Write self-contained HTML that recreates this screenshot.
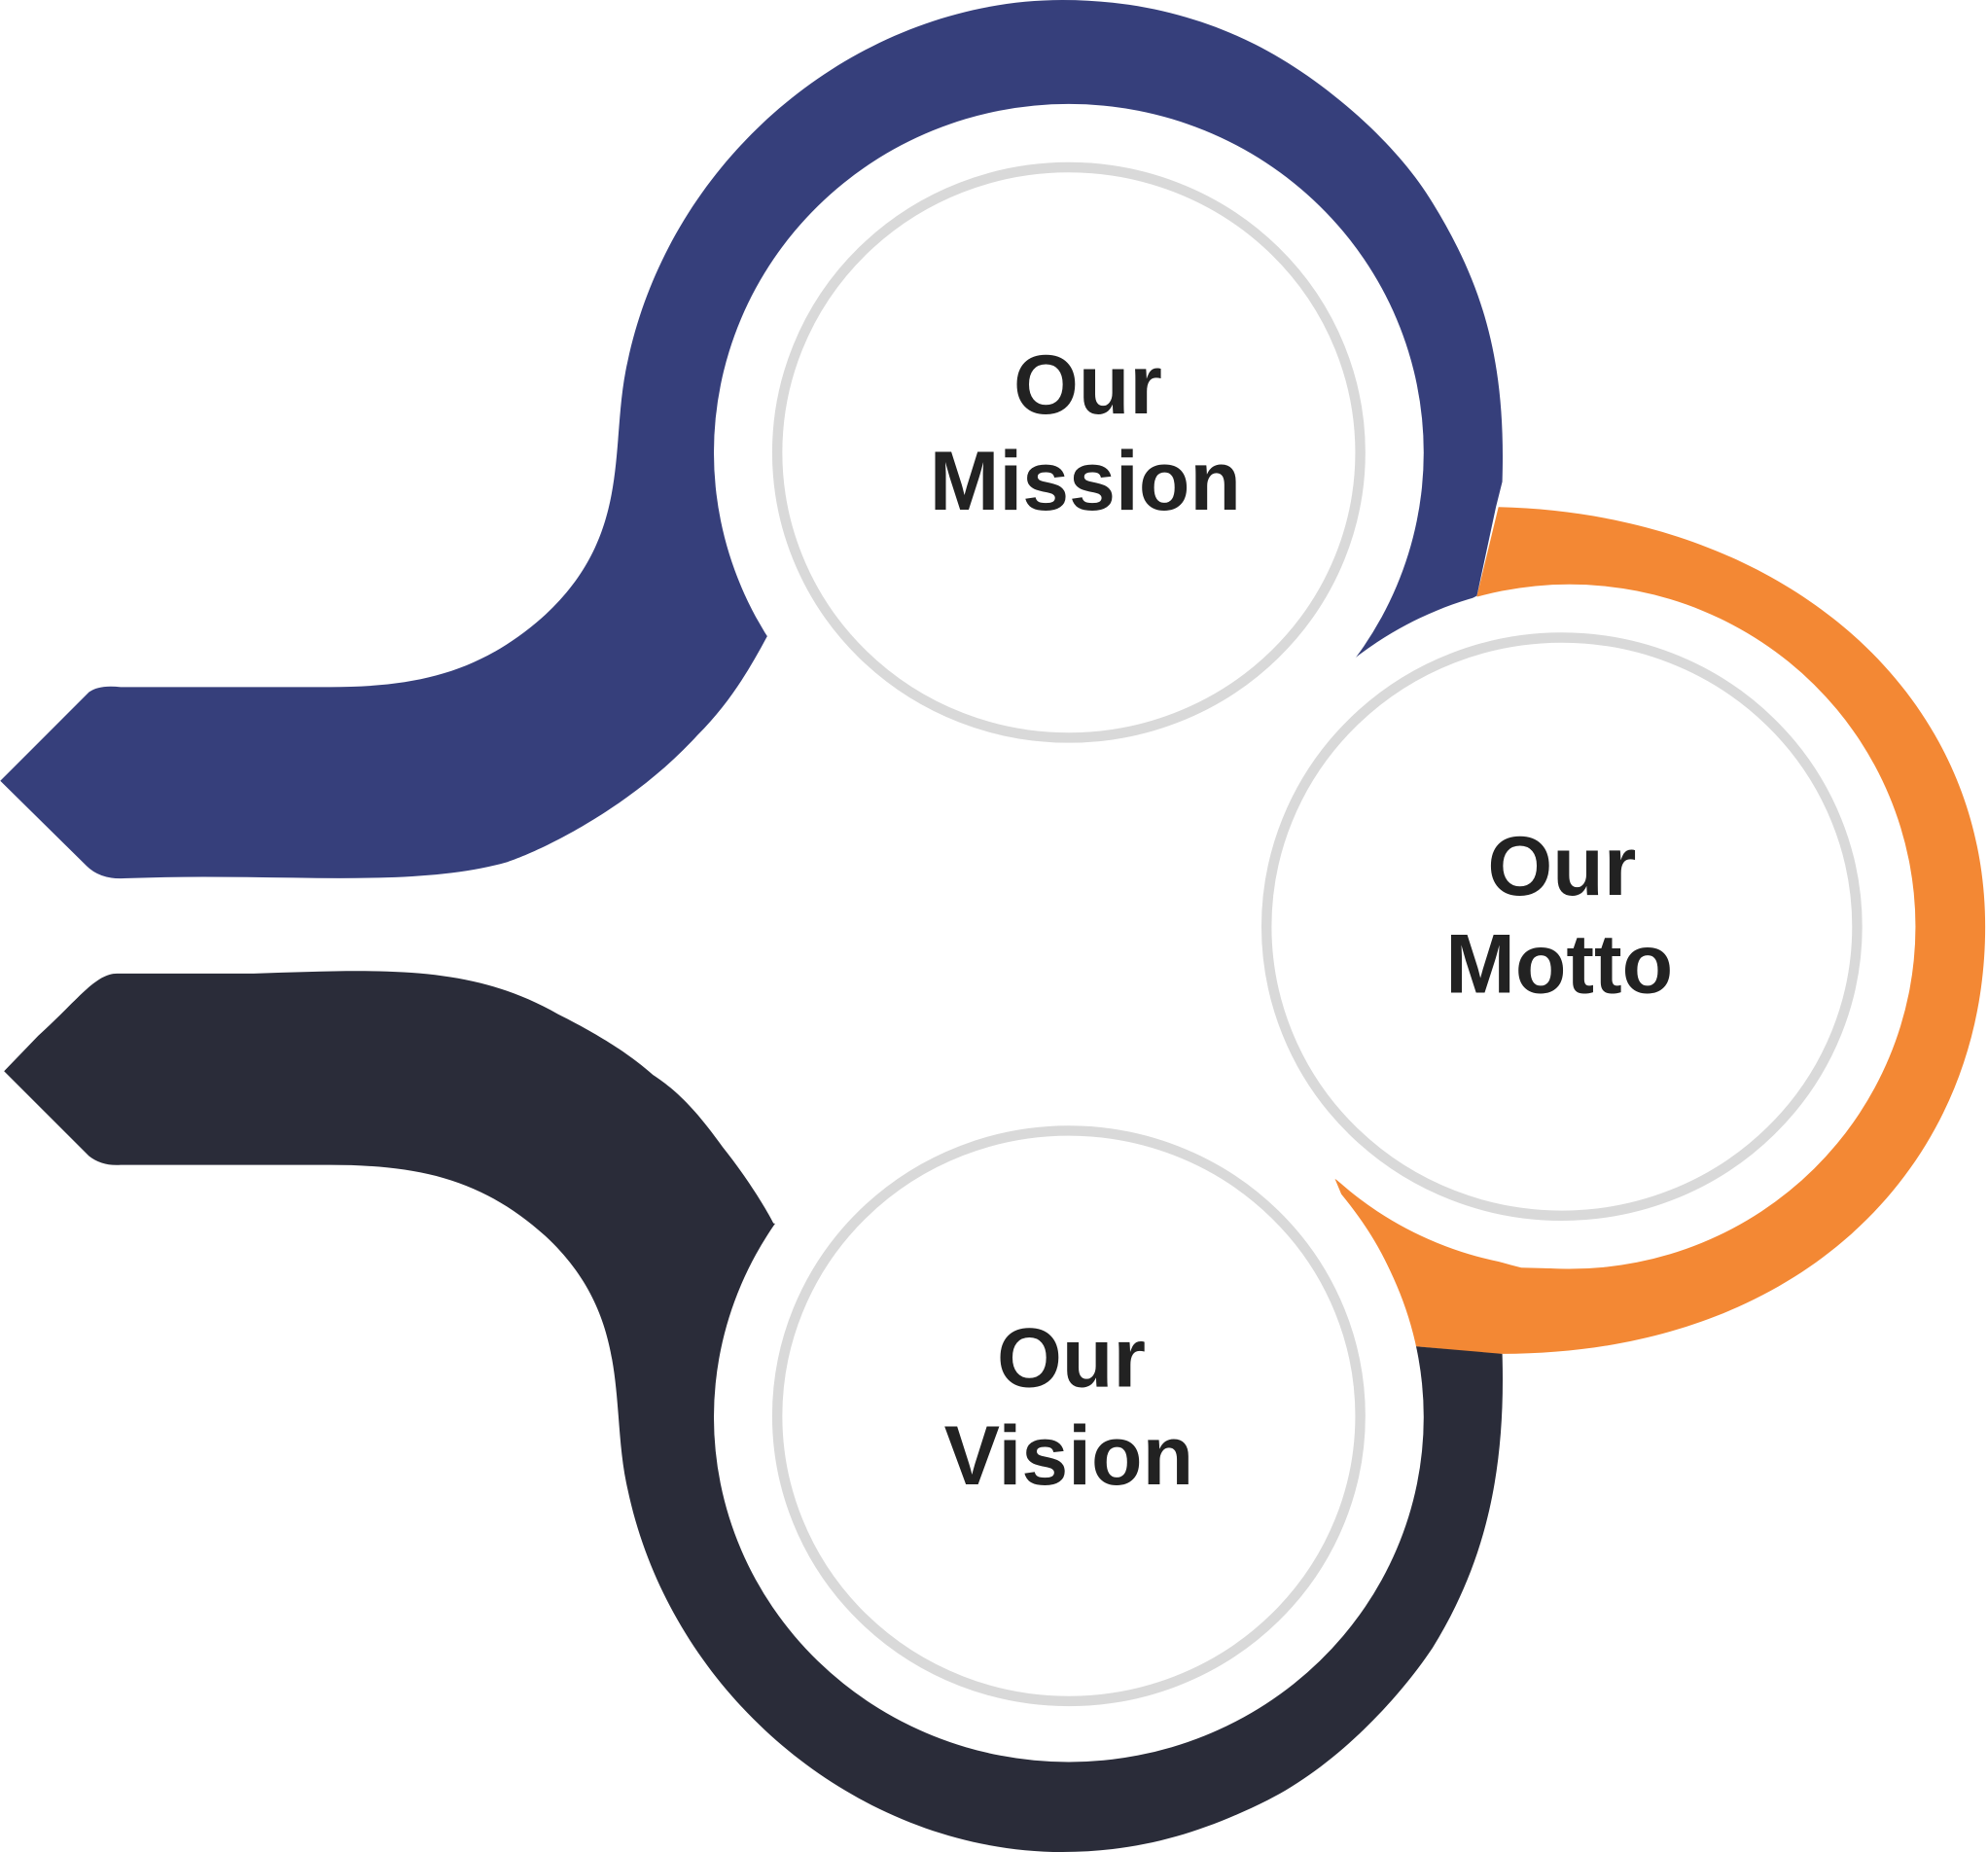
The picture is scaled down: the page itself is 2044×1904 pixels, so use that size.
<!DOCTYPE html>
<html><head><meta charset="utf-8"><style>
html,body{margin:0;padding:0;background:#fff}
svg{display:block}
text{font-family:"Liberation Sans",sans-serif;font-weight:bold;fill:#222;text-anchor:middle;letter-spacing:0px}
</style></head><body>
<svg width="2044" height="1904" viewBox="0 0 1568 1461" xmlns="http://www.w3.org/2000/svg">
<path fill="#363f7b" d="M0,616 L70,546 Q78,540 95,542 L260,542 C330,542 380,530 430,485 C500,420 480,350 495,285 C530,120 680,0 838,0 C900,0 950,15 990,35 C1040,60 1100,110 1130,160 C1170,225 1188,285 1185,380 L1180,400 L1165,470 L1068,522 L605,502 C590,530 575,555 550,580 C500,635 430,670 400,680 C330,700 230,690 130,692 L95,693 Q78,693 68,683 Z"/>
<path fill="#f38834" d="M1182,400 C1400,405 1566,540 1566,731 C1566,920 1420,1070 1180,1068 L1115,1062 C1105,1010 1085,975 1058,942 L1053,930 C1090,950 1120,980 1200,1000 L1238,1001 L1165,470 Z"/>
<path fill="#2a2c39" d="M3,845 L30,817 C60,790 75,768 92,768 L200,768 C300,765 370,760 440,800 C480,820 500,835 515,848 C530,858 545,870 570,905 C590,930 605,955 610,965 L1115,1062 L1185,1068 C1188,1165 1170,1235 1130,1300 C1100,1345 1050,1395 1000,1420 C950,1445 900,1461 838,1461 C680,1461 530,1340 495,1175 C480,1110 500,1040 430,975 C380,930 330,919 260,919 L95,919 Q80,920 70,912 Z"/>
<ellipse cx="843" cy="357" rx="280" ry="275" fill="#fff"/>
<ellipse cx="1238" cy="731" rx="273" ry="270" fill="#fff"/>
<ellipse cx="843" cy="1118" rx="280" ry="272" fill="#fff"/>
<g fill="none" stroke="#d9d9d9" stroke-width="8">
<ellipse cx="843" cy="357" rx="230" ry="225"/>
<ellipse cx="1232" cy="731" rx="233" ry="228"/>
<ellipse cx="843" cy="1117" rx="230" ry="225"/>
</g>
<g font-size="66">
<text x="858" y="326">Our</text>
<text x="856" y="402">Mission</text>
<text x="1232" y="706">Our</text>
<text x="1230" y="783">Motto</text>
<text x="845" y="1094">Our</text>
<text x="843" y="1171">Vision</text>
</g>
</svg>
</body></html>
